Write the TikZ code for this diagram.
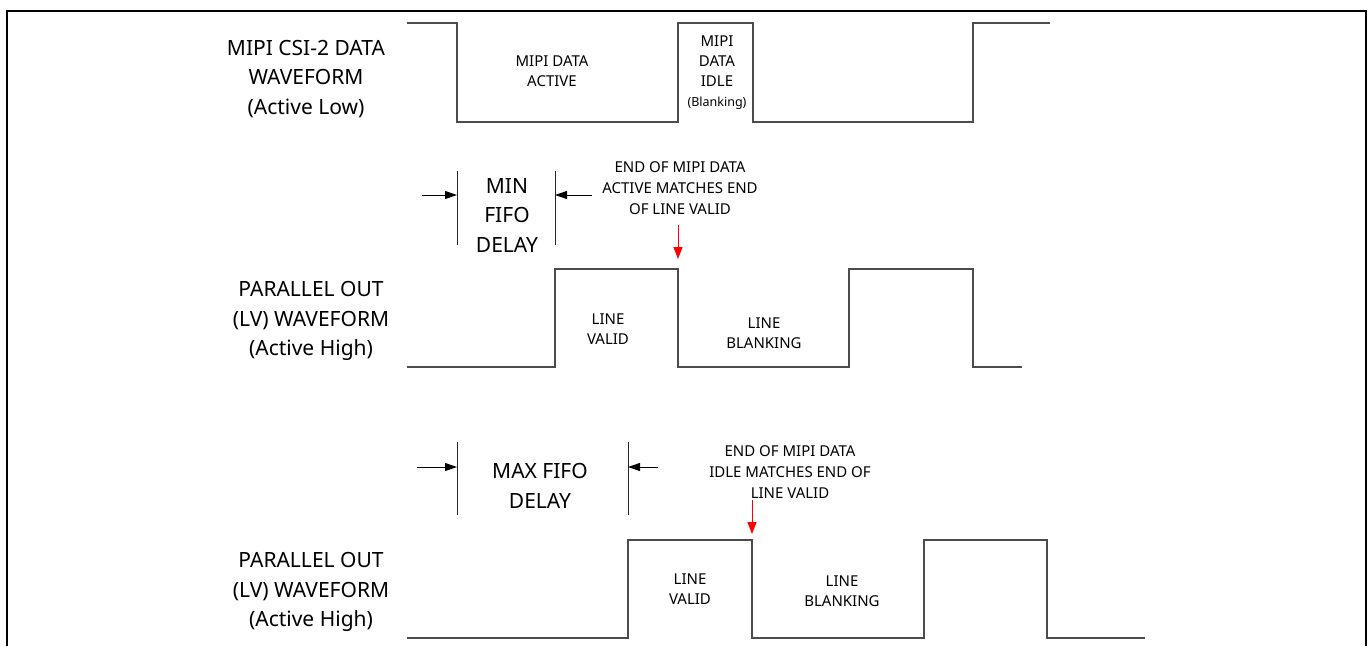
\documentclass[tikz,border=0pt]{standalone}
\usepackage{fontspec}
\setmainfont{Noto Sans}
\usetikzlibrary{arrows.meta}
\begin{document}
\begin{tikzpicture}[x=1pt,y=-1pt,
    onde/.style={black!70, line width=1.2pt},
    cadre/.style={black, line width=2.6pt},
    repere/.style={black!85, line width=1pt},
    fleche/.style={-{Triangle[length=12pt,width=8pt]}, line width=1pt},
    rouge/.style={red, -{Triangle[length=12pt,width=9pt]}, line width=1pt},
    grand/.style={font=\fontsize{21}{29.5}\selectfont, align=center, inner sep=0pt},
    moyen/.style={font=\fontsize{15}{21}\selectfont, align=center, inner sep=0pt},
    petit/.style={font=\fontsize{15}{20}\selectfont, align=center, inner sep=0pt}]
      \useasboundingbox (0,0) rectangle (1370,646);

      % Cadre
      \draw[cadre] (7,646) -- (7,11) -- (1366,11) -- (1366,646);

      % Signal MIPI (actif bas)
      \draw[onde] (407,23) -- (457,23) -- (457,122) -- (678,122) -- (678,23) -- (753,23)
        -- (753,122) -- (973,122) -- (973,23) -- (1050,23);
      \node[grand] (lblMipi) at (306,79) {MIPI CSI-2 DATA\\WAVEFORM\\(Active Low)};
      \node[petit] (mipiActive) at (552,71) {MIPI DATA\\ACTIVE};
      \node[petit] (mipiIdle) at (717,61) {MIPI\\DATA\\IDLE};
      \node[font=\fontsize{12.5}{15}\selectfont, inner sep=0pt] (mipiBlank) at (717,103) {(Blanking)};

      % Signal LV, delai FIFO min
      \draw[onde] (407,367) -- (555,367) -- (555,269) -- (678,269) -- (678,367) -- (849,367)
        -- (849,269) -- (973,269) -- (973,367) -- (1022,367);
      \node[grand] (lblLv1) at (311,321) {PARALLEL OUT\\(LV) WAVEFORM\\(Active High)};
      \node[petit] (lv1Valid) at (608,329) {LINE\\VALID};
      \node[petit] (lv1Blank) at (764,333) {LINE\\BLANKING};

      \draw[repere] (457,171) -- (457,245);
      \draw[repere] (555,171) -- (555,245);
      \coordinate (minG) at (457,195);
      \coordinate (minD) at (555,195);
      \coordinate (minGa) at (422,195);
      \coordinate (minDa) at (592,195);
      \draw[fleche] (minGa) -- (minG);
      \draw[fleche] (minDa) -- (minD);
      \node[grand] (minFifo) at (507,215) {MIN\\FIFO\\DELAY};

      \node[moyen] (note1) at (680,188) {END OF MIPI DATA\\ACTIVE MATCHES END\\OF LINE VALID};
      \coordinate (r1a) at (678,225);
      \coordinate (r1b) at (678,259);
      \draw[rouge] (r1a) -- (r1b);

      % Signal LV, delai FIFO max
      \draw[onde] (407,638) -- (628,638) -- (628,540) -- (752,540) -- (752,638) -- (924,638)
        -- (924,540) -- (1047,540) -- (1047,638) -- (1145,638);
      \node[grand] (lblLv2) at (311,592) {PARALLEL OUT\\(LV) WAVEFORM\\(Active High)};
      \node[petit] (lv2Valid) at (690,589) {LINE\\VALID};
      \node[petit] (lv2Blank) at (842,591) {LINE\\BLANKING};

      \draw[repere] (457,442) -- (457,515);
      \draw[repere] (628,442) -- (628,515);
      \coordinate (maxG) at (457,467);
      \coordinate (maxD) at (628,467);
      \coordinate (maxGa) at (417,467);
      \coordinate (maxDa) at (658,467);
      \draw[fleche] (maxGa) -- (maxG);
      \draw[fleche] (maxDa) -- (maxD);
      \node[grand] (maxFifo) at (540,486) {MAX FIFO\\DELAY};

      \node[moyen] (note2) at (790,472) {END OF MIPI DATA\\IDLE MATCHES END OF\\LINE VALID};
      \coordinate (r2a) at (752,500);
      \coordinate (r2b) at (752,534);
      \draw[rouge] (r2a) -- (r2b);
    \end{tikzpicture}
\end{document}
